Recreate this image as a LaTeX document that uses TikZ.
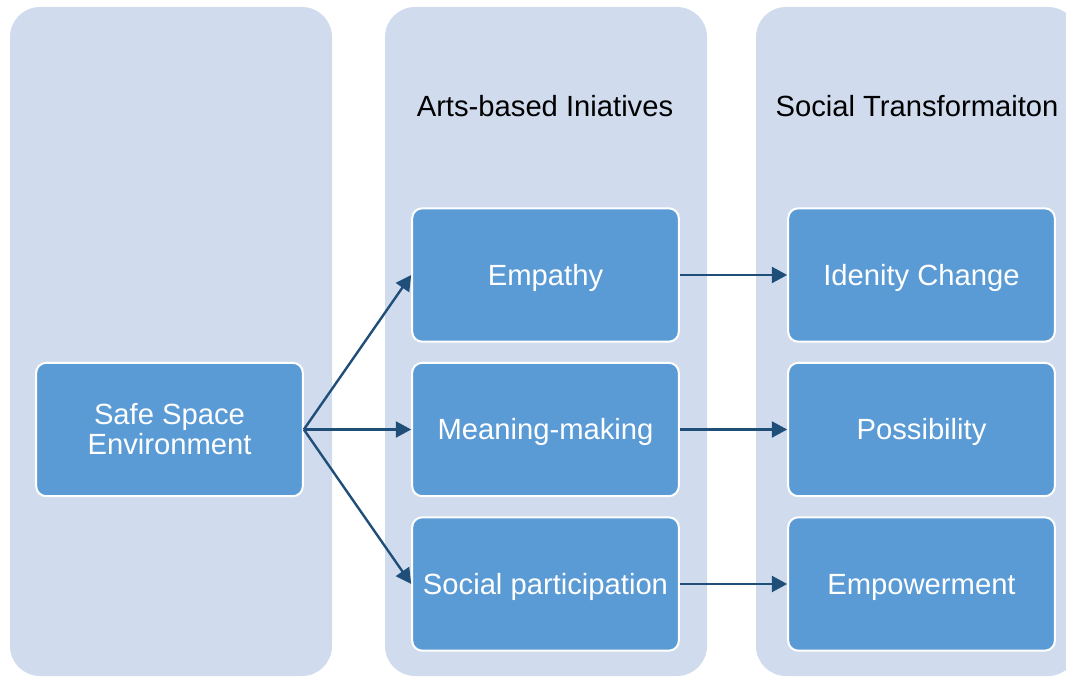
\documentclass[tikz,border=0pt]{standalone}
\usepackage{fontspec}
\setmainfont{Liberation Sans}
\usetikzlibrary{arrows.meta}

\definecolor{panelblue}{RGB}{208,220,238}
\definecolor{boxblue}{RGB}{91,155,213}
\definecolor{arrowblue}{RGB}{31,78,121}

\tikzset{
  panel/.style={fill=panelblue, rounded corners=22.5pt},
  stagebox/.style={fill=boxblue, draw=white, line width=1.5pt, rounded corners=7.5pt,
    minimum width=200pt, minimum height=100pt, text=white, align=center,
    text height=15.7pt, text depth=0pt,
    font=\fontsize{21.9pt}{22.5pt}\selectfont},
  heading/.style={anchor=base, font=\fontsize{21.9pt}{22.5pt}\selectfont},
  flow/.style={draw=arrowblue, line width=1.8pt, -{Triangle[length=11.5pt,width=12pt]}}
}

\begin{document}
\begin{tikzpicture}[x=0.75pt,y=-0.75pt]

 \clip (0,0) rectangle (1066,677); % keep the page size

% Three background panels
 \fill[panel] (10,7) rectangle (332,676);
 \fill[panel] (385,7) rectangle (707,676);
 \fill[panel] (756,7) rectangle (1078,676); % cut at the right edge

 \node[heading] (artsT) at (545,117) {Arts-based Iniatives};
 \node[heading] (socT) at (917,117) {Social Transformaiton};

 \node[stagebox, text height=, text depth=] (safe) at (169.5,429.5) {Safe Space\\Environment};

 \node[stagebox] (emp) at (545.5,275) {Empathy};
 \node[stagebox] (mean) at (545.5,429.5) {Meaning-making};
 \node[stagebox] (part) at (545.5,584) {Social participation};

 \node[stagebox] (iden) at (921.5,275) {Idenity Change};
 \node[stagebox] (poss) at (921.5,429.5) {Possibility};
 \node[stagebox] (power) at (921.5,584) {Empowerment};

% Fan out from the environment
 \draw[flow] (safe.east) -- (emp.west);
 \draw[flow] (safe.east) -- (mean.west);
 \draw[flow] (safe.east) -- (part.west);

% One to one into the outcomes
 \draw[flow] (emp) -- (iden);
 \draw[flow] (mean) -- (poss);
 \draw[flow] (part) -- (power);

\end{tikzpicture}
\end{document}
